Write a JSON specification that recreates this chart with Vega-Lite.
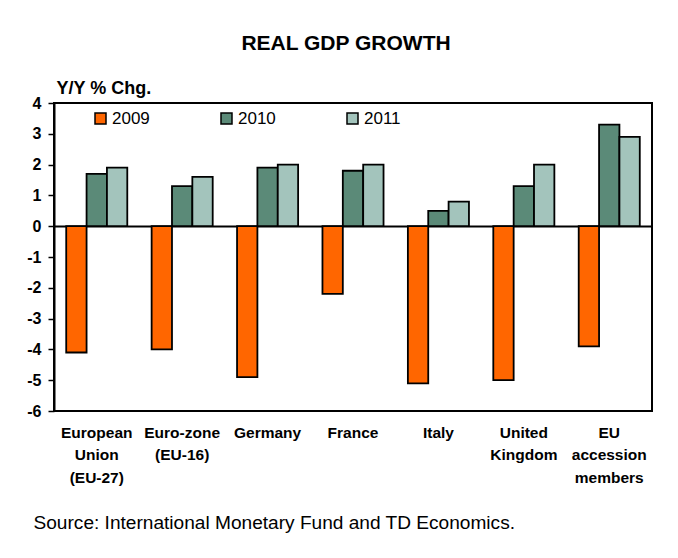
{
  "$schema": "https://vega.github.io/schema/vega-lite/v6.json",
  "width": 598,
  "height": 308,
  "autosize": "none",
  "padding": {"left": 54, "top": 103, "right": 26, "bottom": 147},
  "background": "white",
  "config": {
    "font": "Liberation Sans",
    "view": {"stroke": "black", "strokeWidth": 2}
  },
  "title": {
    "text": "REAL GDP GROWTH",
    "fontSize": 21,
    "fontWeight": "bold",
    "color": "black",
    "anchor": "middle",
    "dx": -7,
    "offset": 25
  },
  "data": {
    "values": [
      {"region": "European|Union|(EU-27)", "year": "2009", "value": -4.1},
      {"region": "European|Union|(EU-27)", "year": "2010", "value": 1.7},
      {"region": "European|Union|(EU-27)", "year": "2011", "value": 1.9},
      {"region": "Euro-zone|(EU-16)", "year": "2009", "value": -4.0},
      {"region": "Euro-zone|(EU-16)", "year": "2010", "value": 1.3},
      {"region": "Euro-zone|(EU-16)", "year": "2011", "value": 1.6},
      {"region": "Germany", "year": "2009", "value": -4.9},
      {"region": "Germany", "year": "2010", "value": 1.9},
      {"region": "Germany", "year": "2011", "value": 2.0},
      {"region": "France", "year": "2009", "value": -2.2},
      {"region": "France", "year": "2010", "value": 1.8},
      {"region": "France", "year": "2011", "value": 2.0},
      {"region": "Italy", "year": "2009", "value": -5.1},
      {"region": "Italy", "year": "2010", "value": 0.5},
      {"region": "Italy", "year": "2011", "value": 0.8},
      {"region": "United|Kingdom", "year": "2009", "value": -5.0},
      {"region": "United|Kingdom", "year": "2010", "value": 1.3},
      {"region": "United|Kingdom", "year": "2011", "value": 2.0},
      {"region": "EU|accession|members", "year": "2009", "value": -3.9},
      {"region": "EU|accession|members", "year": "2010", "value": 3.3},
      {"region": "EU|accession|members", "year": "2011", "value": 2.9}
    ]
  },
  "mark": {"type": "bar", "stroke": "black", "strokeWidth": 1.8},
  "encoding": {
    "x": {
      "field": "region",
      "type": "nominal",
      "sort": null,
      "scale": {"paddingInner": 0.285, "paddingOuter": 0.143},
      "axis": {
        "title": "Source: International Monetary Fund and TD Economics.",
        "titleFontSize": 19.1,
        "titleFontWeight": "normal",
        "titleColor": "black",
        "titleAnchor": "start",
        "titleAlign": "left",
        "titleBaseline": "alphabetic",
        "titleX": -21,
        "titleY": 117,
        "labelExpr": "split(datum.label, '|')",
        "labelAngle": 0,
        "labelFontSize": 15.5,
        "labelFontWeight": "bold",
        "labelColor": "black",
        "labelLineHeight": 22.5,
        "labelPadding": 14,
        "labelBaseline": "top",
        "labelLimit": 200,
        "ticks": false,
        "domain": false
      }
    },
    "xOffset": {"field": "year", "type": "nominal", "scale": {"paddingInner": 0, "paddingOuter": 0}},
    "y": {
      "field": "value",
      "type": "quantitative",
      "scale": {"domain": [-6, 4], "nice": false, "zero": false},
      "axis": {
        "values": [-6, -5, -4, -3, -2, -1, 0, 1, 2, 3, 4],
        "labelOverlap": false,
        "labelExpr": "toString(datum.value)",
        "grid": true,
        "gridColor": {"condition": {"test": "datum.value === 0", "value": "black"}, "value": "transparent"},
        "gridWidth": 2,
        "title": "Y/Y % Chg.",
        "titleAngle": 0,
        "titleFontSize": 18,
        "titleFontWeight": "bold",
        "titleColor": "black",
        "titleAnchor": "end",
        "titleAlign": "left",
        "titleBaseline": "alphabetic",
        "titleX": 2,
        "titleY": -10,
        "labelFontSize": 16,
        "labelFontWeight": "bold",
        "labelColor": "black",
        "labelPadding": 7,
        "tickColor": "black",
        "tickWidth": 1.5,
        "tickSize": 6,
        "domainColor": "black",
        "domainWidth": 2
      }
    },
    "fill": {
      "field": "year",
      "type": "nominal",
      "scale": {"domain": ["2009", "2010", "2011"], "range": ["#FF6600", "#5B8A78", "#A3C4BC"]},
      "legend": {
        "title": null,
        "orient": "none",
        "legendX": 38,
        "legendY": 7,
        "direction": "horizontal",
        "columns": 3,
        "columnPadding": 68,
        "symbolType": "square",
        "symbolSize": 121,
        "symbolStrokeColor": "black",
        "symbolStrokeWidth": 1.5,
        "symbolOffset": 0,
        "labelOffset": 3,
        "labelFontSize": 17,
        "labelColor": "black"
      }
    }
  }
}
